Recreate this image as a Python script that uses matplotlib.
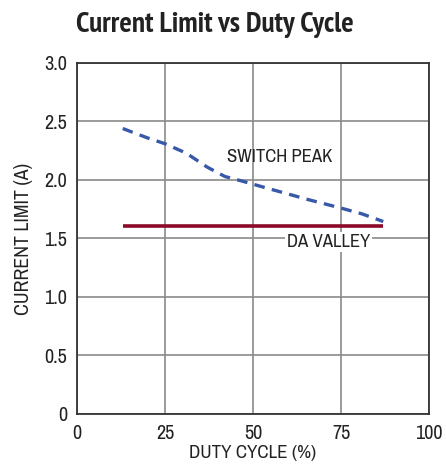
import matplotlib
matplotlib.use("Agg")
import matplotlib.pyplot as plt

plt.rcParams['font.family'] = ['Archivo Narrow', 'DejaVu Sans']

# data
duty_peak = [13, 20, 25, 31, 37, 42, 47, 54, 60, 66, 75, 81, 87]
switch_peak = [2.44, 2.36, 2.31, 2.23, 2.11, 2.03, 1.99, 1.93, 1.88, 1.83, 1.76, 1.71, 1.645]
duty_valley = [13, 87]
da_valley = [1.61, 1.61]

xticks = [0, 25, 50, 75, 100]
yticks = [0, 0.5, 1.0, 1.5, 2.0, 2.5, 3.0]
ytick_labels = ['0', '0.5', '1.0', '1.5', '2.0', '2.5', '3.0']

fig = plt.figure(figsize=(4.46, 4.68), dpi=100)
ax = fig.add_axes([0.1726, 0.1154, 0.7893, 0.75])

ax.plot(duty_valley, da_valley, color='#8b0a2a', lw=2.6, solid_capstyle='butt', zorder=3)
ax.plot(duty_peak, switch_peak, color='#3858a8', lw=2.4, dashes=(3.2, 2.2), zorder=3)

ax.set_xlim(0, 100)
ax.set_ylim(0, 3.0)
ax.set_xticks(xticks)
ax.set_yticks(yticks)
ax.set_yticklabels(ytick_labels)
ax.grid(True, color='#8a8a8a', lw=1.2)
ax.set_axisbelow(True)
ax.tick_params(length=0, labelsize=14.5, pad=7, colors='#222222')
for s in ax.spines.values():
    s.set_color('#333333')
    s.set_linewidth(1.3)

ax.set_xlabel('DUTY CYCLE (%)', fontsize=13.7, color='#222222', labelpad=2)
ax.set_ylabel('CURRENT LIMIT (A)', fontsize=14.3, color='#222222', labelpad=8)

ax.text(57.5, 2.2, 'SWITCH PEAK', fontsize=13.5, ha='center', va='center', color='#222222')
ax.text(71.5, 1.47, 'DA VALLEY', fontsize=13.5, ha='center', va='center', color='#222222',
        bbox=dict(facecolor='white', edgecolor='none', pad=1.5))

fig.text(0.481, 0.947, 'Current Limit vs Duty Cycle', fontsize=21, fontweight='bold',
         family=['PT Sans Narrow', 'DejaVu Sans'], ha='center', va='center', color='#222222')

fig.savefig('out.png', dpi=100)
